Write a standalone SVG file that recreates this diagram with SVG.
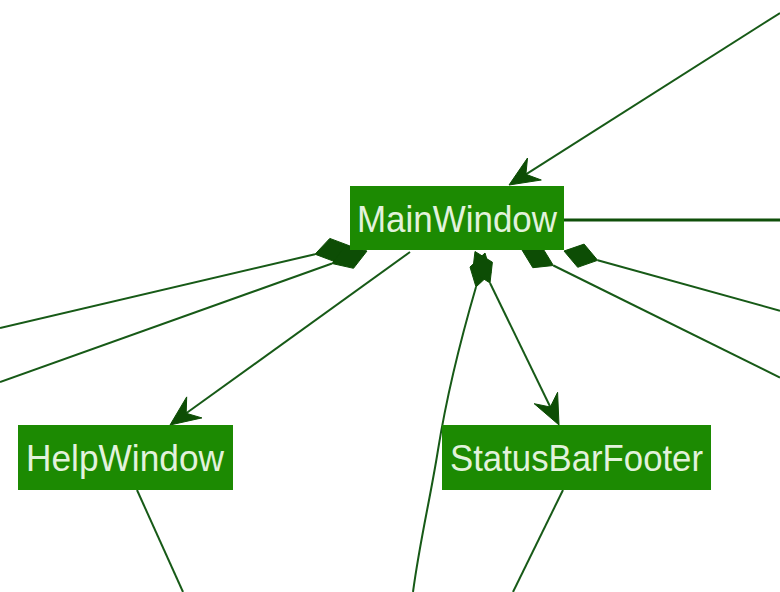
<svg xmlns="http://www.w3.org/2000/svg" width="780" height="592" viewBox="0 0 780 592">
<style>
.edge{stroke:#175a17;stroke-width:2;fill:none}
.thick{stroke:#0f4f0a;stroke-width:3;fill:none}
.head{fill:#0d4d05;stroke:#0d4d05;stroke-width:1;stroke-linejoin:round}
.box{fill:#1c8a02}
.lbl{font-family:"Liberation Sans",Arial,sans-serif;font-size:37px;fill:#e2f2dc}
</style>
<rect width="780" height="592" fill="#ffffff"/>
<g id="connectors">
<line class="edge" x1="780" y1="13" x2="525.9" y2="174.3"/>
<polygon class="head" points="509,185 541.3,180 525.9,174.3 527.5,158"/>
<line class="thick" x1="564" y1="220" x2="780" y2="220"/>
<line class="edge" x1="0" y1="328" x2="315" y2="254.2"/>
<polygon class="head" points="350,246 329.8,238.4 315,254.2 335.2,261.8"/>
<line class="edge" x1="0" y1="382" x2="332" y2="263.5"/>
<polygon class="head" points="367,251 345.5,245.7 332,263.5 353.5,268.3"/>
<line class="edge" x1="410" y1="252" x2="186.2" y2="413.3"/>
<polygon class="head" points="170,425 201.9,417.9 186.2,413.3 186.7,396.9"/>
<line class="edge" x1="553.4" y1="265.5" x2="780" y2="377.5"/>
<polygon class="head" points="522,250 542.6,247.9 553.4,265.5 532.8,267.7"/>
<line class="edge" x1="597.7" y1="260.3" x2="780" y2="310.7"/>
<polygon class="head" points="564,251 584.1,244.1 597.7,260.3 577.7,267.3"/>
<path class="edge" d="M476,287 C462,335 446,400 438,450 S420,540 413,592"/>
<polygon class="head" points="485,253 491,273 476,287 470,267"/>
<line class="edge" x1="490" y1="283" x2="550.3" y2="407"/>
<polygon class="head" points="475,251.5 492.4,262.2 490,283 472.6,271.8"/>
<polygon class="head" points="559,425 534.2,403.7 550.3,407 557.6,392.3"/>
<line class="edge" x1="137" y1="490" x2="183" y2="592"/>
<line class="edge" x1="563" y1="490" x2="513" y2="592"/>
</g>
<g id="MainWindow">
<rect class="box" x="350" y="186" width="214" height="64"/>
<text class="lbl" x="357" y="232" textLength="200" lengthAdjust="spacingAndGlyphs">MainWindow</text>
</g>
<g id="HelpWindow">
<rect class="box" x="18" y="425" width="215" height="65"/>
<text class="lbl" x="26" y="471" textLength="198" lengthAdjust="spacingAndGlyphs">HelpWindow</text>
</g>
<g id="StatusBarFooter">
<rect class="box" x="442" y="425" width="269" height="65"/>
<text class="lbl" x="450" y="471" textLength="253" lengthAdjust="spacingAndGlyphs">StatusBarFooter</text>
</g>
</svg>
